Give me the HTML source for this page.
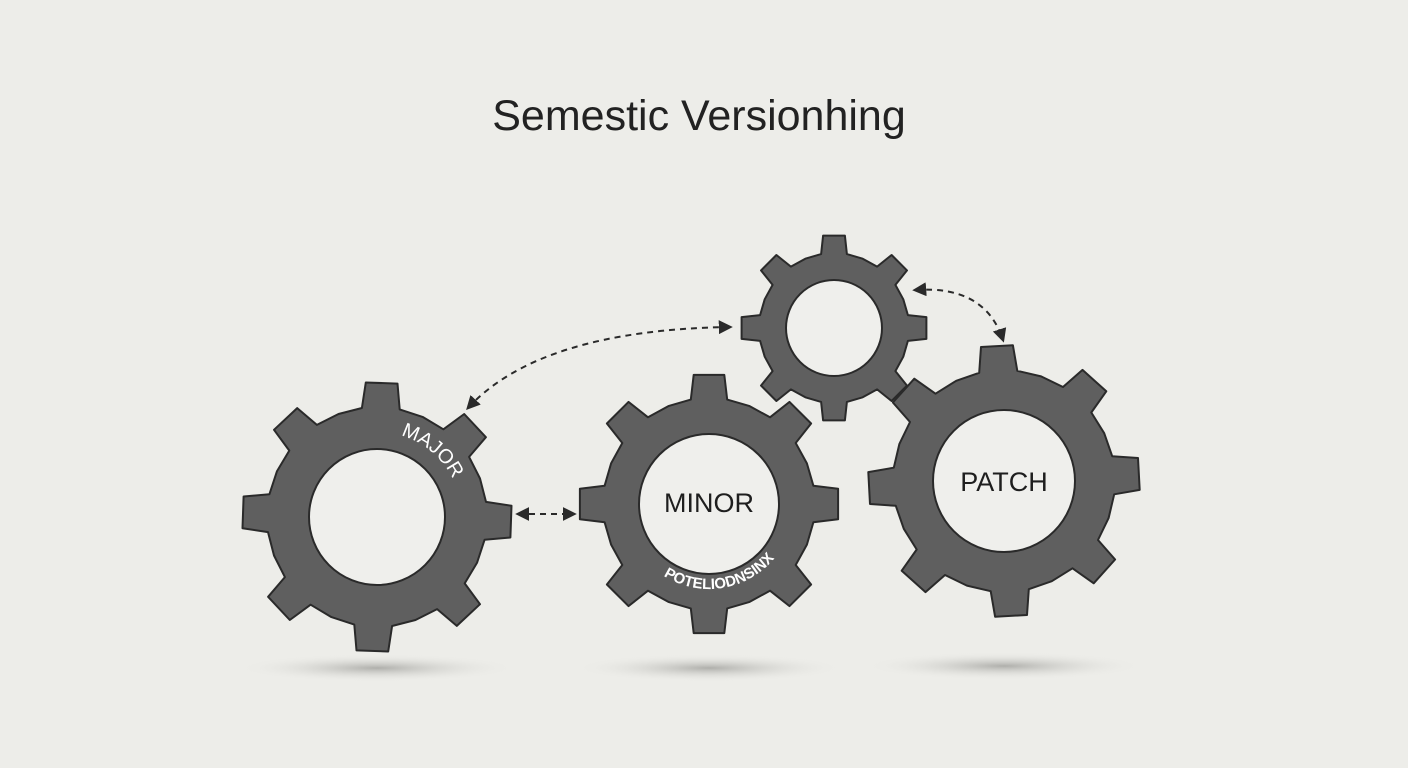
<!DOCTYPE html>
<html><head><meta charset="utf-8"><style>
html,body{margin:0;padding:0;background:#edede9;}
svg{display:block}
</style></head><body>
<svg id="s" width="1408" height="768" viewBox="0 0 1408 768" xmlns="http://www.w3.org/2000/svg">
<defs>
<radialGradient id="sh" cx="50%" cy="50%" r="50%">
<stop offset="0" stop-color="#9a9a96" stop-opacity="0.75"/>
<stop offset="1" stop-color="#edede9" stop-opacity="0"/>
</radialGradient>
<marker id="ah" viewBox="0 0 10 10" refX="8" refY="5" markerWidth="7" markerHeight="7" orient="auto-start-reverse">
<path d="M0,0 L10,5 L0,10 z" fill="#2a2a2a"/>
</marker>
<path id="majorArc" d="M 377 432 A 85 85 0 0 1 462 517"/>
<path id="minorArc" d="M 624 504 A 85 85 0 0 0 794 504"/>
</defs>
<rect width="1408" height="768" fill="#edede9"/>
<ellipse cx="377" cy="668" rx="140" ry="14" fill="url(#sh)"/>
<ellipse cx="709" cy="668" rx="135" ry="14" fill="url(#sh)"/>
<ellipse cx="1004" cy="666" rx="140" ry="14" fill="url(#sh)"/>
<text x="699" y="130" text-anchor="middle" font-family="Liberation Sans, sans-serif" font-size="43" fill="#222">Semestic Versionhing</text>
<g id="gears"></g>
<g fill="none" stroke="#2a2a2a" stroke-width="2" stroke-dasharray="6,5">
<path d="M 730 327 Q 540 330 468 408" marker-end="url(#ah)" marker-start="url(#ah)"/>
<path d="M 518 514 L 574 514" marker-end="url(#ah)" marker-start="url(#ah)"/>
<path d="M 915 290 Q 985 285 1003 340" marker-end="url(#ah)" marker-start="url(#ah)"/>
</g>
<text font-family="Liberation Sans, sans-serif" font-size="20" fill="#fff"><textPath href="#majorArc" startOffset="24">MAJOR</textPath></text>
<text font-family="Liberation Sans, sans-serif" font-size="15" fill="#fff" font-weight="bold" text-anchor="middle"><textPath href="#minorArc" startOffset="55%">POTELIODNSINX</textPath></text>
<text x="709" y="512" text-anchor="middle" font-family="Liberation Sans, sans-serif" font-size="27" fill="#1e1e1e">MINOR</text>
<text x="1004" y="491" text-anchor="middle" font-family="Liberation Sans, sans-serif" font-size="27" fill="#1e1e1e">PATCH</text>
</svg>
<script>
function gear(cx,cy,R,r,h,n,rot){
  var pts=[];var step=2*Math.PI/n;
  var ab=step*0.22, at=step*0.15;
  for(var i=0;i<n;i++){
    var a=rot*Math.PI/180+i*step-Math.PI/2;
    var list=[[a-step/2,r],[a-ab,r],[a-at,R],[a+at,R],[a+ab,r]];
    list.forEach(function(p){pts.push([cx+p[1]*Math.cos(p[0]),cy+p[1]*Math.sin(p[0])]);});
  }
  var d="M"+pts.map(function(p){return p[0].toFixed(1)+","+p[1].toFixed(1)}).join(" L")+" Z";
  return '<path d="'+d+'" fill="#5f5f5f" stroke="#2a2a2a" stroke-width="2" stroke-linejoin="round"/>'+
   '<circle cx="'+cx+'" cy="'+cy+'" r="'+h+'" fill="#efefec" stroke="#2a2a2a" stroke-width="2"/>';
}
var g=document.getElementById('gears');
g.innerHTML=gear(377,517,135,110,68,8,2)+gear(709,504,130,106,70,8,0)+gear(834,328,93,75,48,8,0)+gear(1004,481,136,111,71,8,-3);
</script>
</body></html>
